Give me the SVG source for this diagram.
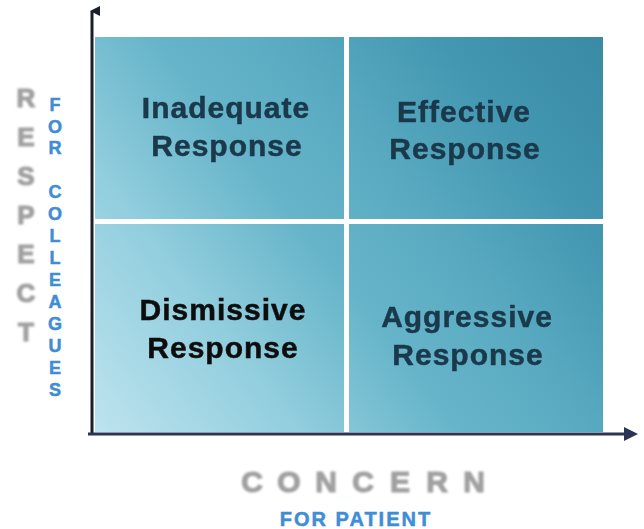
<svg xmlns="http://www.w3.org/2000/svg" width="644" height="529" viewBox="0 0 644 529">
  <defs>
    <linearGradient id="fieldGrad" gradientUnits="userSpaceOnUse" x1="95" y1="431" x2="602" y2="37">
      <stop offset="0" stop-color="#bde3ee"/>
      <stop offset="0.25" stop-color="#92cede"/>
      <stop offset="0.45" stop-color="#66b4c9"/>
      <stop offset="0.6" stop-color="#5aabc2"/>
      <stop offset="0.8" stop-color="#4397b0"/>
      <stop offset="1" stop-color="#3a8aa4"/>
    </linearGradient>
    <filter id="soft" x="-20%" y="-20%" width="140%" height="140%">
      <feGaussianBlur stdDeviation="1"/>
    </filter>
    <filter id="softText" x="-10%" y="-10%" width="120%" height="120%">
      <feGaussianBlur stdDeviation="0.45"/>
    </filter>
    <marker id="arrowUp" viewBox="0 0 10 10" refX="5" refY="2" markerWidth="10" markerHeight="10" markerUnits="userSpaceOnUse" orient="auto">
      <path d="M0,10 L5,0 L10,10 Z" fill="#1a1f2a"/>
    </marker>
    <marker id="arrowRight" viewBox="0 0 14 14" refX="10" refY="7" markerWidth="14" markerHeight="14" markerUnits="userSpaceOnUse" orient="auto">
      <path d="M0,0 L14,7 L0,14 Z" fill="#2b3452"/>
    </marker>
  </defs>
  <style>
    .quad { fill: url(#fieldGrad); }
    .label { font-family: "Liberation Sans", Arial, sans-serif; font-weight: bold; font-size: 30px; letter-spacing: 1px; text-anchor: middle; stroke-width: 0.5px; }
    .navy { fill: #1a384b; stroke: #1a384b; }
    .black { fill: #101010; stroke: #101010; }
    .big-grey { font-family: "Liberation Sans", Arial, sans-serif; font-weight: bold; fill: #a0a0a0; stroke: #a0a0a0; stroke-width: 1.2px; text-anchor: middle; }
    .small-blue { font-family: "Liberation Sans", Arial, sans-serif; font-weight: bold; fill: #3f8dd6; stroke: #3f8dd6; stroke-width: 0.5px; text-anchor: middle; }
    .side { font-size: 18px; }
    .foot { font-size: 20px; letter-spacing: 2px; }
  </style>

  <rect width="644" height="529" fill="#ffffff"/>

  <!-- four response quadrants -->
  <g id="inadequate">
    <rect class="quad" x="95" y="37" width="249" height="182"/>
    <g class="label navy" filter="url(#softText)">
      <text x="226" y="118">Inadequate</text>
      <text x="227" y="156">Response</text>
    </g>
  </g>
  <g id="effective">
    <rect class="quad" x="349" y="37" width="254" height="182"/>
    <g class="label navy" filter="url(#softText)">
      <text x="464" y="122">Effective</text>
      <text x="465" y="159">Response</text>
    </g>
  </g>
  <g id="dismissive">
    <rect class="quad" x="95" y="224" width="249" height="208"/>
    <g class="label black" filter="url(#softText)">
      <text x="223" y="320">Dismissive</text>
      <text x="223" y="358">Response</text>
    </g>
  </g>
  <g id="aggressive">
    <rect class="quad" x="349" y="224" width="254" height="208"/>
    <g class="label navy" filter="url(#softText)">
      <text x="467" y="327">Aggressive</text>
      <text x="468" y="365">Response</text>
    </g>
  </g>

  <!-- axes -->
  <g id="axes">
    <line x1="92" y1="434" x2="92" y2="11" stroke="#1a1f2a" stroke-width="3" marker-end="url(#arrowUp)"/>
    <line x1="88" y1="434" x2="634" y2="434" stroke="#2b3452" stroke-width="3" marker-end="url(#arrowRight)"/>
  </g>

  <!-- vertical axis title -->
  <g id="respect-title">
    <text class="big-grey" font-size="26" filter="url(#soft)" x="26 26 26 26 26 26 26" y="107 146 185 224 263 302 341">RESPECT</text>
    <text class="small-blue side" x="55 55 55 55 55 55 55 55 55 55 55 55 55" y="111 133 154 198 220 242 264 286 308 330 352 374 396">FORCOLLEAGUES</text>
  </g>

  <!-- horizontal axis title -->
  <g id="concern-title">
    <text class="big-grey" font-size="30" filter="url(#soft)" x="252 289 326 363 400 437 474" y="492">CONCERN</text>
    <text class="small-blue foot" x="356" y="526">FOR PATIENT</text>
  </g>
</svg>
